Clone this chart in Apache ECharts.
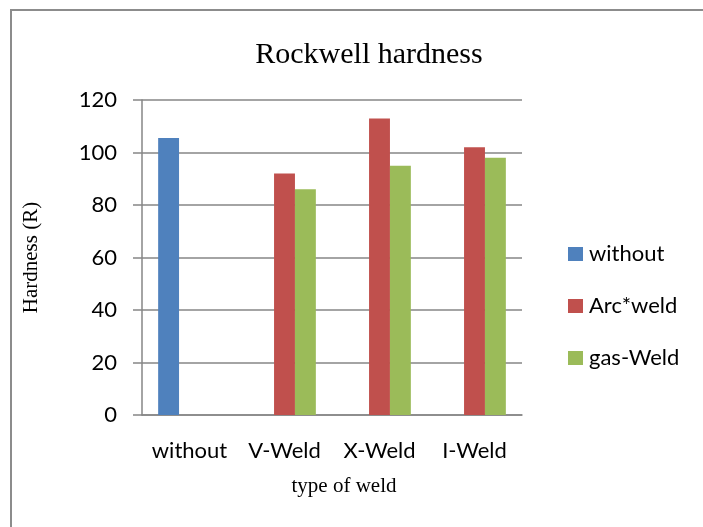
<!DOCTYPE html>
<html>
<head>
<meta charset="utf-8">
<script src="https://cdn.jsdelivr.net/npm/echarts@6/dist/echarts.min.js"></script>
<style>
    html, body { margin: 0; padding: 0; background: #fff; }
    #main { width: 703px; height: 527px; }
</style>
</head>
<body>
<div id="main"></div>
<script>
var categories = ['without', 'V-Weld', 'X-Weld', 'I-Weld'];
var seriesNames = ['without', 'Arc*weld', 'gas-Weld'];
var withoutValues = [105.5, null, null, null];
var arcValues = [null, 92, 113, 102];
var gasValues = [null, 86, 95, 98];
var yTicks = [0, 20, 40, 60, 80, 100, 120];

var labelFont = 'Lato, "Open Sans", sans-serif';
var serifFont = '"Liberation Serif", "Times New Roman", serif';
var axisGray = '#868686';

var chartDom = document.getElementById('main');
var myChart = echarts.init(chartDom);
var option;

option = {
    backgroundColor: '#fff',
    animation: false,
    title: {
        text: 'Rockwell hardness',
        left: 364,
        textAlign: 'center',
        top: 35,
        textStyle: {
            fontFamily: serifFont,
            fontSize: 30,
            fontWeight: 'normal',
            color: '#000'
        }
    },
    legend: {
        orient: 'vertical',
        left: 563,
        top: 238,
        itemWidth: 15,
        itemHeight: 14,
        itemGap: 30,
        icon: 'rect',
        data: seriesNames,
        textStyle: {
            fontFamily: labelFont,
            fontSize: 22,
            color: '#000',
            padding: [0, 0, 0, 1]
        }
    },
    graphic: [
        {
            type: 'polyline',
            shape: { points: [[11, 527], [11, 10], [703, 10]] },
            style: { stroke: '#8c8c8c', lineWidth: 2, fill: null }
        }
    ],
    grid: {
        left: 142,
        right: 181,
        top: 100,
        bottom: 112,
        containLabel: false
    },
    xAxis: {
        type: 'category',
        data: categories,
        name: 'type of weld',
        nameLocation: 'middle',
        nameGap: 61,
        nameTextStyle: {
            fontFamily: serifFont,
            fontSize: 21,
            color: '#000',
            padding: [0, 0, 0, 24]
        },
        axisLine: { show: true, lineStyle: { color: axisGray, width: 1.5 } },
        axisTick: { show: false },
        axisLabel: {
            interval: 0,
            hideOverlap: false,
            margin: 25,
            fontFamily: labelFont,
            fontSize: 22,
            color: '#000'
        }
    },
    yAxis: {
        type: 'value',
        min: yTicks[0],
        max: yTicks[yTicks.length - 1],
        interval: yTicks[1] - yTicks[0],
        name: 'Hardness (R)',
        nameLocation: 'middle',
        nameGap: 100,
        nameTextStyle: {
            fontFamily: serifFont,
            fontSize: 21,
            color: '#000'
        },
        axisLine: { show: true, lineStyle: { color: axisGray, width: 1.5 } },
        axisTick: { show: true, length: 9, lineStyle: { color: axisGray, width: 1.5 } },
        splitLine: { show: true, lineStyle: { color: axisGray, width: 1.5 } },
        axisLabel: {
            margin: 25,
            fontFamily: labelFont,
            fontSize: 22,
            color: '#000'
        }
    },
    series: [
        {
            name: seriesNames[0],
            type: 'bar',
            data: withoutValues,
            barGap: '0%',
            barCategoryGap: '34%',
            itemStyle: { color: '#4F81BD' }
        },
        {
            name: seriesNames[1],
            type: 'bar',
            data: arcValues,
            itemStyle: { color: '#C0504D' }
        },
        {
            name: seriesNames[2],
            type: 'bar',
            data: gasValues,
            itemStyle: { color: '#9BBB59' }
        }
    ]
};

option && myChart.setOption(option);
</script>
</body>
</html>
